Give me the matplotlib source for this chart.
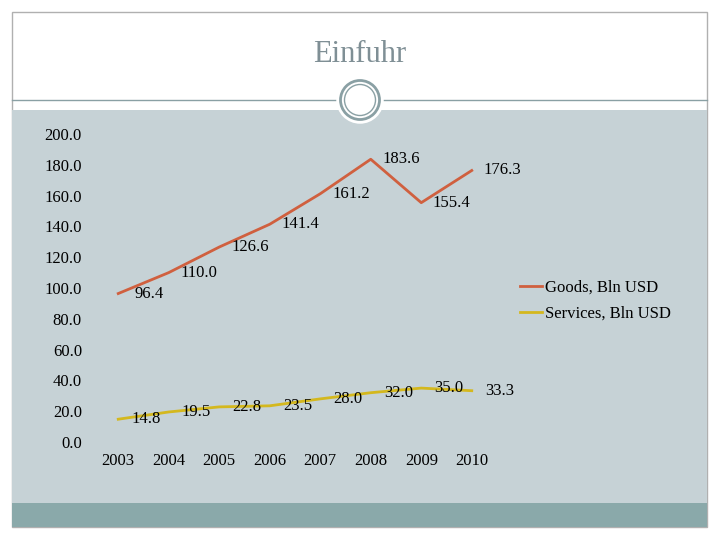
import matplotlib
matplotlib.use("Agg")
import matplotlib.pyplot as plt
from matplotlib.patches import Rectangle, Circle

years = [2003, 2004, 2005, 2006, 2007, 2008, 2009, 2010]
goods = [96.4, 110.0, 126.6, 141.4, 161.2, 183.6, 155.4, 176.3]
services = [14.8, 19.5, 22.8, 23.5, 28.0, 32.0, 35.0, 33.3]
yticks = [0, 20, 40, 60, 80, 100, 120, 140, 160, 180, 200]

plt.rcParams['font.family'] = ['Liberation Serif', 'DejaVu Serif']
fig = plt.figure(figsize=(7.2, 5.4), dpi=100)
W, H = 720, 540
def fx(x): return x / W
def fy(y): return 1 - y / H

# slide decorations
fig.patches.append(Rectangle((fx(12), fy(527)), fx(695), 515 / H, transform=fig.transFigure,
                             facecolor='white', edgecolor='#b0b0b0', lw=1, zorder=-10))
fig.patches.append(Rectangle((fx(12), fy(503)), fx(695), 393 / H, transform=fig.transFigure,
                             facecolor='#c6d2d6', edgecolor='none', zorder=-9))
fig.patches.append(Rectangle((fx(12), fy(527)), fx(695), 24 / H, transform=fig.transFigure,
                             facecolor='#8aa9aa', edgecolor='none', zorder=-9))
fig.lines.append(plt.Line2D([fx(12), fx(707)], [fy(100), fy(100)], transform=fig.transFigure,
                            color='#8aa0a4', lw=1, zorder=-8))
ax0 = fig.add_axes([fx(335), fy(125), 50 / W, 50 / H])
ax0.set_xlim(-1, 1); ax0.set_ylim(-1, 1); ax0.set_aspect('equal'); ax0.axis('off')
ax0.add_patch(Circle((0, 0), 0.95, facecolor='white', edgecolor='none'))
ax0.add_patch(Circle((0, 0), 0.78, facecolor='none', edgecolor='#8aa0a4', lw=2))
ax0.add_patch(Circle((0, 0), 0.62, facecolor='none', edgecolor='#8aa0a4', lw=1))
fig.text(fx(360), fy(55), 'Einfuhr', ha='center', va='center', fontsize=22, color='#7f8f95')

ax = fig.add_axes([fx(93), fy(442), 404 / W, 308 / H])
ax.set_facecolor('none')
ax.plot(years, goods, color='#d0603f', lw=2, label='Goods, Bln USD')
ax.plot(years, services, color='#d4b81e', lw=2, label='Services, Bln USD')
for x, v in zip(years, goods):
    ax.annotate(f'{v:.1f}', (x, v), xytext=(22, 0), textcoords='offset points',
                ha='center', va='center', fontsize=12, annotation_clip=False)
for x, v in zip(years, services):
    ax.annotate(f'{v:.1f}', (x, v), xytext=(20, 0), textcoords='offset points',
                ha='center', va='center', fontsize=12, annotation_clip=False)
ax.set_xlim(2002.5, 2010.5)
ax.set_ylim(0, 200)
ax.set_yticks(yticks)
ax.set_yticklabels([f'{t:.1f}' for t in yticks], fontsize=12)
ax.set_xticks(years)
ax.set_xticklabels([str(y) for y in years], fontsize=12)
ax.tick_params(length=0, pad=8)
for s in ax.spines.values():
    s.set_visible(False)
fig.legend(loc='center left', bbox_to_anchor=(fx(505), fy(301)), frameon=False,
           fontsize=12, handlelength=1.3, handletextpad=0.2, labelspacing=0.6)
fig.savefig('out.png', dpi=100)
